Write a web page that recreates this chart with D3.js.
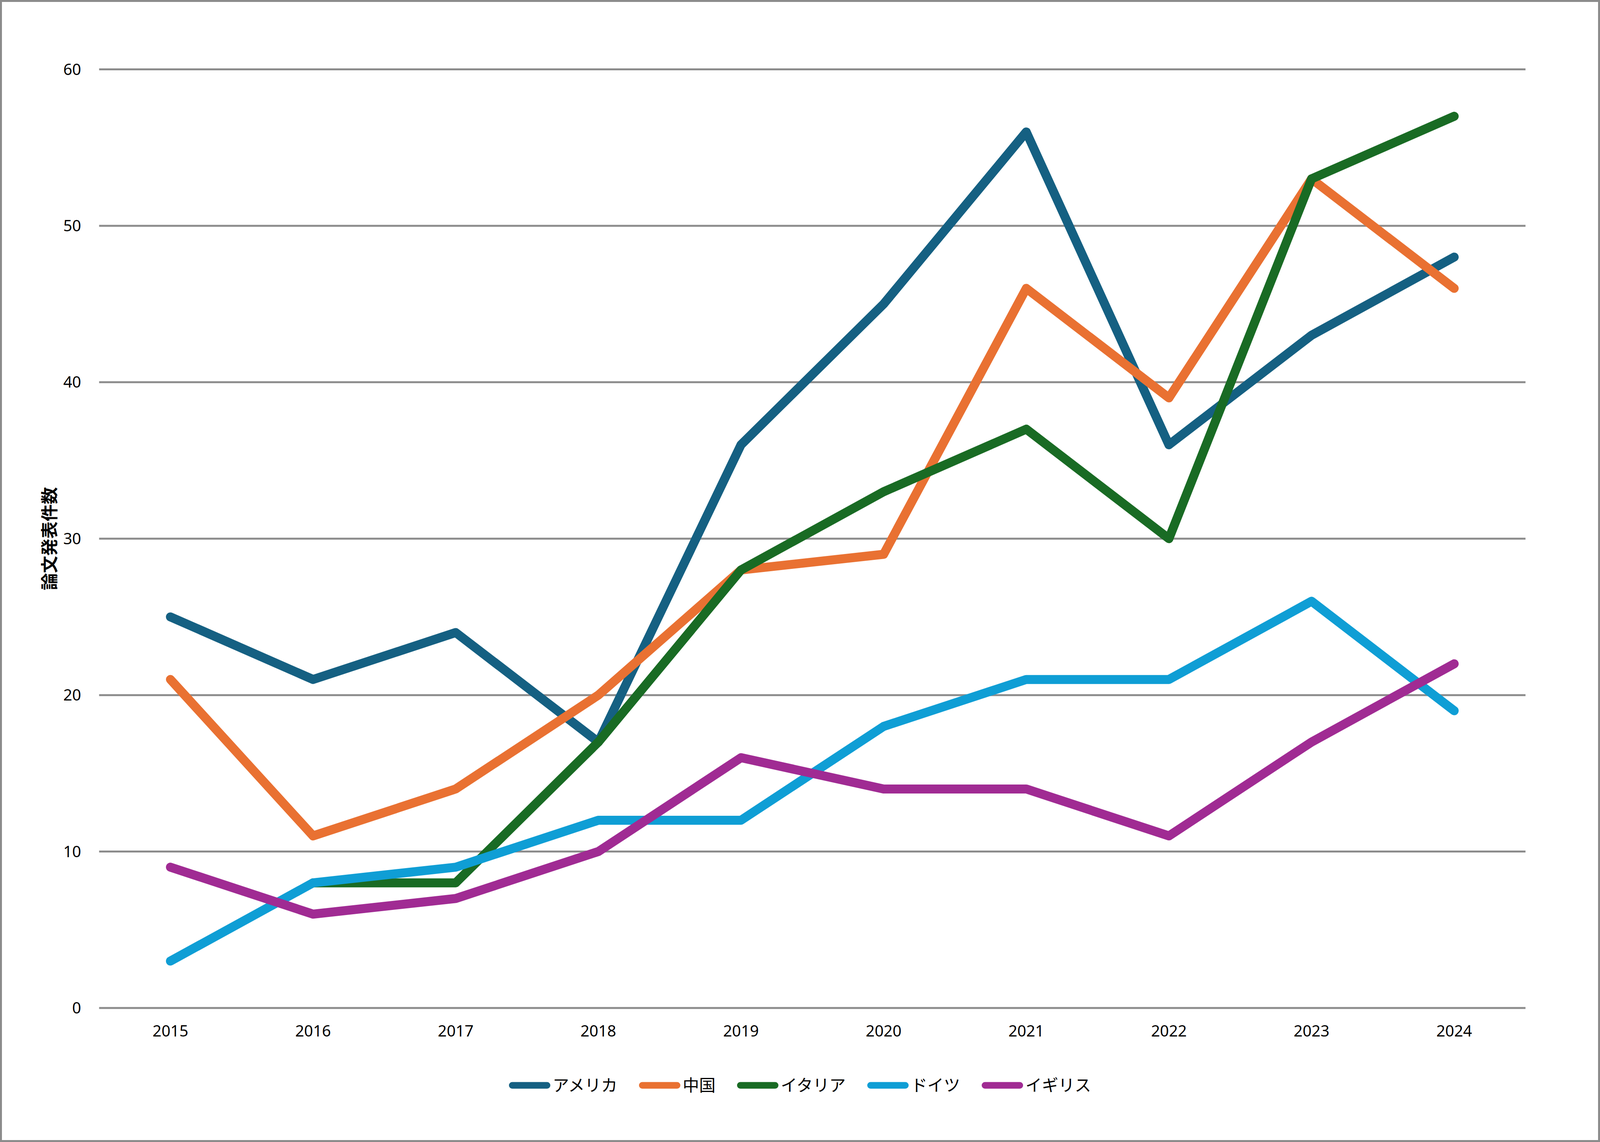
<!DOCTYPE html>
<html>
<head>
<meta charset="utf-8">
<script src="https://cdn.jsdelivr.net/npm/d3@7"></script>
<style>
  html, body { margin: 0; padding: 0; background: #fff; overflow: hidden; }
  svg { display: block; }
  text { font-family: "Noto Sans", "Noto Sans CJK JP", sans-serif; }
</style>
</head>
<body>
<svg id="chart"></svg>
<script>
const years = ["2015", "2016", "2017", "2018", "2019", "2020", "2021", "2022", "2023", "2024"];
const usa = [25, 21, 24, 17, 36, 45, 56, 36, 43, 48];
const china = [21, 11, 14, 20, 28, 29, 46, 39, 53, 46];
const italy = [null, 8, 8, 17, 28, 33, 37, 30, 53, 57];
const germany = [3, 8, 9, 12, 12, 18, 21, 21, 26, 19];
const uk = [9, 6, 7, 10, 16, 14, 14, 11, 17, 22];
const seriesNames = ["アメリカ", "中国", "イタリア", "ドイツ", "イギリス"];
const colors = ["#156082", "#E97132", "#196B24", "#0F9ED5", "#A02B93"];
const yTicks = [0, 10, 20, 30, 40, 50, 60];

const series = [usa, china, italy, germany, uk].map((values, i) => ({
  name: seriesNames[i], color: colors[i], values
}));

// layout is designed on a 4811x2923 canvas, then fitted to the real window
const baseW = 4811, baseH = 2923;
const width = window.innerWidth || baseW;
const height = window.innerHeight || baseH;
const sx = width / baseW, sy = height / baseH;
const px = v => v * sx;   // horizontal positions
const py = v => v * sy;   // vertical positions and sizes

const margin = { top: 177.5, right: 224, bottom: 343, left: 298 };

const svg = d3.select("#chart").attr("width", width).attr("height", height);

// outer border
svg.append("rect")
  .attr("x", py(2.5)).attr("y", py(2.5))
  .attr("width", width - py(5)).attr("height", height - py(5))
  .attr("fill", "#fff")
  .attr("stroke", "#8c8c8c")
  .attr("stroke-width", py(5));

// Scales
const x = d3.scaleBand()
  .domain(years)
  .range([px(margin.left), width - px(margin.right)])
  .padding(0);

const y = d3.scaleLinear()
  .domain([0, 60])
  .range([height - py(margin.bottom), py(margin.top)]);

// Grid lines
svg.append("g")
  .selectAll("line")
  .data(yTicks)
  .join("line")
  .attr("x1", px(margin.left))
  .attr("x2", width - px(margin.right))
  .attr("y1", d => y(d))
  .attr("y2", d => y(d))
  .attr("stroke", "#8c8c8c")
  .attr("stroke-width", py(5));

// Y tick labels
svg.append("g")
  .selectAll("text")
  .data(yTicks)
  .join("text")
  .attr("x", px(298) - py(46))
  .attr("y", d => y(d))
  .attr("dy", "0.35em")
  .attr("text-anchor", "end")
  .style("font-size", py(40) + "px")
  .attr("fill", "#000")
  .text(d => d);

// X tick labels
svg.append("g")
  .selectAll("text")
  .data(years)
  .join("text")
  .attr("x", d => x(d) + x.bandwidth() / 2)
  .attr("y", py(2653))
  .attr("text-anchor", "middle")
  .style("font-size", py(40) + "px")
  .attr("fill", "#000")
  .text(d => d);

// Y axis title
svg.append("text")
  .attr("transform", `translate(${px(168)}, ${(y(0) + y(60)) / 2}) rotate(-90)`)
  .attr("text-anchor", "middle")
  .style("font-size", py(44) + "px")
  .style("font-weight", "bold")
  .style("font-family", "'Noto Sans CJK JP', sans-serif")
  .text("論文発表件数");

// Lines
const line = d3.line()
  .defined(d => d != null)
  .x((d, i) => x(years[i]) + x.bandwidth() / 2)
  .y(d => y(d));

svg.append("g")
  .selectAll("path")
  .data(series)
  .join("path")
  .attr("d", d => line(d.values))
  .attr("fill", "none")
  .attr("stroke", d => d.color)
  .attr("stroke-width", py(23))
  .attr("stroke-linejoin", "round")
  .attr("stroke-linecap", "round");

// Legend
const legend = svg.append("g");
const lineLen = py(106);
const gapText = py(6);
const gapItem = py(55);
const capW = py(17);
let cursor = 0;
series.forEach(s => {
  const g = legend.append("g");
  g.append("line")
    .attr("x1", capW / 2).attr("x2", lineLen - capW / 2)
    .attr("y1", 0).attr("y2", 0)
    .attr("stroke", s.color)
    .attr("stroke-width", capW)
    .attr("stroke-linecap", "round");
  const t = g.append("text")
    .attr("x", lineLen + gapText)
    .attr("y", 0)
    .attr("dy", "0.36em")
    .style("font-size", py(42) + "px")
    .style("font-family", "'Noto Sans CJK JP', sans-serif")
    .text(s.name);
  const w = lineLen + gapText + t.node().getComputedTextLength();
  g.attr("transform", `translate(${cursor}, 0)`);
  cursor += w + gapItem;
});
const totalW = cursor - gapItem;
legend.attr("transform", `translate(${width / 2 - totalW / 2}, ${py(2778)})`);
</script>
</body>
</html>
